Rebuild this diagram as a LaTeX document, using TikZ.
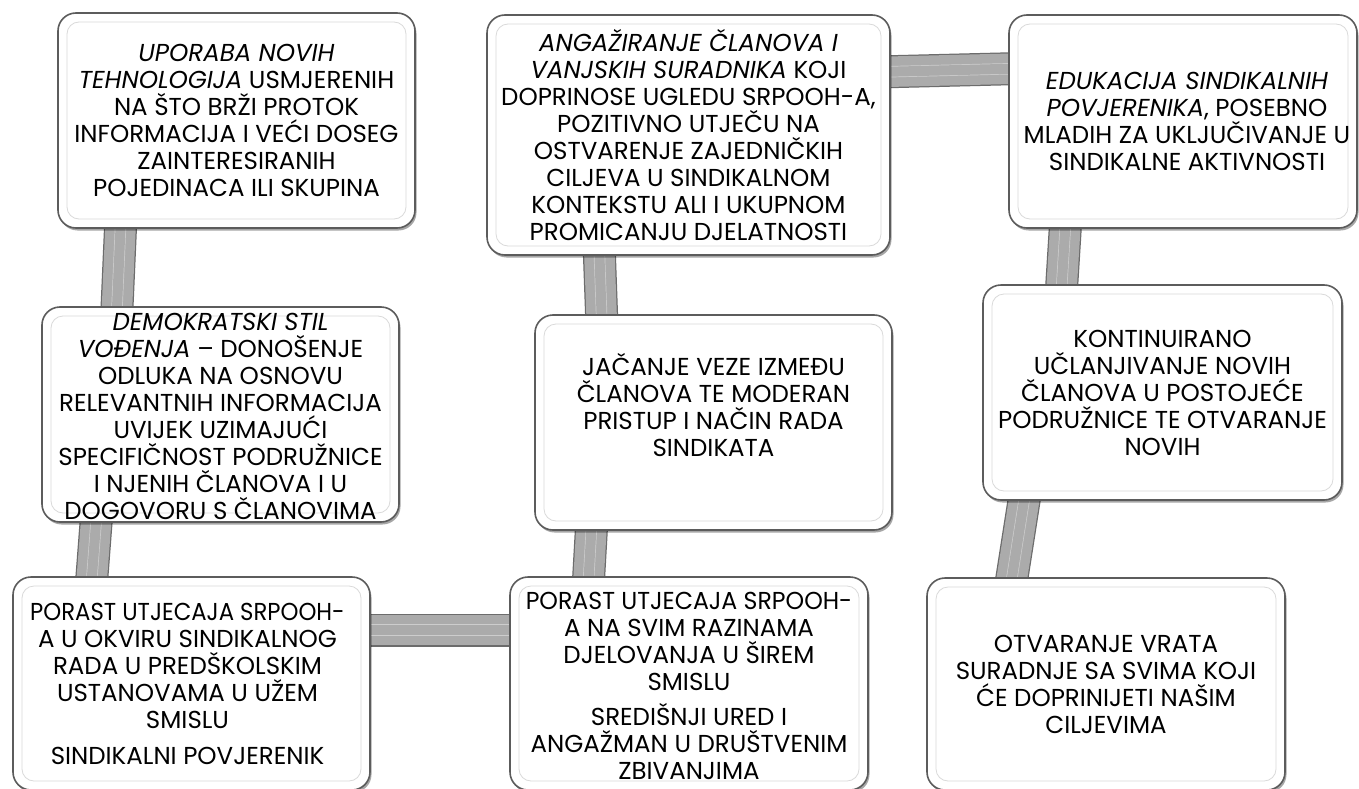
\documentclass[tikz,border=0pt]{standalone}
\usepackage{fontspec}
\usepackage{graphicx}
\setmainfont{Poppins}
\usetikzlibrary{calc,shadows}
\pgfdeclarelayer{background}
\pgfdeclarelayer{canvas}
\pgfsetlayers{canvas,background,main}
\definecolor{boxline}{HTML}{5C5C5C}
\definecolor{innerline}{HTML}{DADADA}
\definecolor{barfill}{HTML}{ABABAB}
\definecolor{baredge}{HTML}{6C6C6C}
\definecolor{barlight}{HTML}{CDCDCD}
\tikzset{
  x=1pt, y=-1pt,
  roundbox/.style={draw=boxline, line width=1.6pt, fill=white, rounded corners=18pt,
    drop shadow={shadow xshift=1.5pt, shadow yshift=-2.5pt, opacity=0.35, fill=black},
    inner sep=0pt, outer sep=0pt},
  innerframe/.style={draw=innerline, line width=0.8pt, rounded corners=12pt},
  txt/.style={align=center, inner sep=0pt, font=\fontsize{24.5}{27}\selectfont, text=black},
  conbar/.style={draw=barlight, line width=0.7pt, double=barfill, double distance=10pt,
    preaction={draw=baredge, line width=33pt},
    preaction={draw=barfill, line width=30.5pt}},
}
\newcommand\placebox[5]{%
  \node[roundbox, minimum width=#4-#2, minimum height=#5-#3] (#1) at ({(#2+#4)/2},{(#3+#5)/2}) {};
  \draw[innerframe] ($(#1.north west)+(9,9)$) rectangle ($(#1.south east)+(-9,-9)$);
}
\begin{document}
\begin{tikzpicture}
\begin{pgfonlayer}{canvas}
\fill[white] (0,0) rectangle (1359,789);
\end{pgfonlayer}
\useasboundingbox (0,0) rectangle (1359,789);

\placebox{b1}{58}{13}{415}{228}
\placebox{b2}{487}{15}{890}{255}
\placebox{b3}{1009}{15}{1357}{228}
\placebox{b4}{42}{307}{399}{522}
\placebox{b5}{535}{315}{892}{530}
\placebox{b6}{983}{285}{1342}{500}
\placebox{b7}{13}{577}{370}{790}
\placebox{b8}{510}{577}{868}{790}
\placebox{b9}{927}{578}{1285}{790}

\node[txt] (t1) at ($(b1.center)+(0,0)$) {{\itshape UPORABA NOVIH}\\
{\itshape TEHNOLOGIJA} USMJERENIH\\
NA ŠTO BRŽI PROTOK\\
INFORMACIJA I VEĆI DOSEG\\
ZAINTERESIRANIH\\
POJEDINACA ILI SKUPINA};

\node[txt] (t2) at ($(b2.center)+(0,0)$) {{\itshape ANGAŽIRANJE ČLANOVA I}\\
{\itshape VANJSKIH SURADNIKA} KOJI\\
DOPRINOSE UGLEDU SRPOOH-A,\\
POZITIVNO UTJEČU NA\\
OSTVARENJE ZAJEDNIČKIH\\
CILJEVA U SINDIKALNOM\\
KONTEKSTU ALI I UKUPNOM\\
PROMICANJU DJELATNOSTI};

\node[txt] (t3) at ($(b3.center)+(4,0)$) {{\itshape EDUKACIJA SINDIKALNIH}\\
{\itshape POVJERENIKA}, POSEBNO\\
MLADIH ZA UKLJUČIVANJE U\\
SINDIKALNE AKTIVNOSTI};

\node[txt] (t4) at ($(b4.center)+(0,2)$) {{\itshape DEMOKRATSKI STIL}\\
{\itshape VOĐENJA} – DONOŠENJE\\
ODLUKA NA OSNOVU\\
RELEVANTNIH INFORMACIJA\\
UVIJEK UZIMAJUĆI\\
SPECIFIČNOST PODRUŽNICE\\
I NJENIH ČLANOVA I U\\
DOGOVORU S ČLANOVIMA};

\node[txt] (t5) at ($(b5.center)+(0,-17)$) {JAČANJE VEZE IZMEĐU\\
ČLANOVA TE MODERAN\\
PRISTUP I NAČIN RADA\\
SINDIKATA};

\node[txt] (t6) at ($(b6.center)+(0,0)$) {KONTINUIRANO\\
UČLANJIVANJE NOVIH\\
ČLANOVA U POSTOJEĆE\\
PODRUŽNICE TE OTVARANJE\\
NOVIH};

\node[txt] (t7) at ($(b7.center)+(-4,0)$) {\scalebox{0.93}[1]{PORAST UTJECAJA SRPOOH-}\\
A U OKVIRU SINDIKALNOG\\
RADA U PREDŠKOLSKIM\\
USTANOVAMA U UŽEM\\
SMISLU\\[9pt]
SINDIKALNI POVJERENIK};

\node[txt] (t8) at ($(b8.center)+(0,2)$) {\scalebox{0.965}[1]{PORAST UTJECAJA SRPOOH-}\\
A NA SVIM RAZINAMA\\
DJELOVANJA U ŠIREM\\
SMISLU\\[8pt]
SREDIŠNJI URED I\\
ANGAŽMAN U DRUŠTVENIM\\
ZBIVANJIMA};

\node[txt] (t9) at ($(b9.center)+(0,0)$) {OTVARANJE VRATA\\
SURADNJE SA SVIMA KOJI\\
ĆE DOPRINIJETI NAŠIM\\
CILJEVIMA};

\begin{pgfonlayer}{background}
\draw[conbar] ($(b1.south west)+(63,-12)$) -- ($(b4.north west)+(74.5,12)$);
\draw[conbar] ($(b4.south west)+(55,-12)$) -- ($(b7.north west)+(78,12)$);
\draw[conbar] ($(b7.north east)+(-12,53)$) -- ($(b8.north west)+(12,53)$);
\draw[conbar] ($(b5.south west)+(57,-12)$) -- ($(b8.north west)+(78,12)$);
\draw[conbar] ($(b2.south west)+(112,-12)$) -- ($(b5.north west)+(67,12)$);
\draw[conbar] ($(b2.north east)+(-12,57)$) -- ($(b3.north west)+(12,53.5)$);
\draw[conbar] ($(b3.south west)+(57,-12)$) -- ($(b6.north west)+(78,12)$);
\draw[conbar] ($(b6.south west)+(43,-12)$) -- ($(b9.north west)+(83,12)$);
\end{pgfonlayer}
\end{tikzpicture}
\end{document}
